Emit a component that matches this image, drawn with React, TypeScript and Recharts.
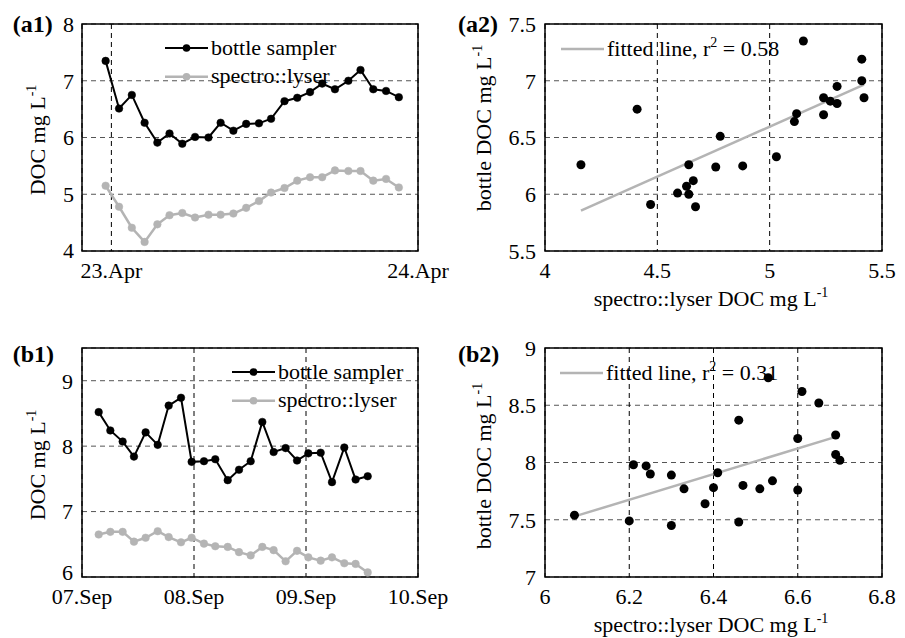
import React from 'react';
import {
  LineChart,
  Line,
  ScatterChart,
  Scatter,
  XAxis,
  YAxis,
  CartesianGrid,
  ReferenceArea,
  ReferenceLine,
  Legend,
} from 'recharts';

const FONT = '"Liberation Serif", "Times New Roman", serif';
const GRAY = '#b4b4b4';

// ---------- Panel (a): 23-24 April, hourly samples (x in hours after 23.Apr 00:00)
const aHours = [-0.45, 0.6, 1.6, 2.6, 3.6, 4.55, 5.55, 6.55, 7.6, 8.55, 9.55, 10.55, 11.55, 12.5, 13.55, 14.55, 15.55, 16.5, 17.5, 18.55, 19.5, 20.5, 21.5, 22.5];
const aBottle = [7.35, 6.51, 6.75, 6.26, 5.91, 6.07, 5.89, 6.01, 6.0, 6.26, 6.12, 6.24, 6.25, 6.33, 6.64, 6.7, 6.8, 6.95, 6.85, 7.0, 7.19, 6.85, 6.82, 6.71];
const aSpectro = [5.15, 4.78, 4.41, 4.16, 4.47, 4.63, 4.67, 4.59, 4.64, 4.64, 4.66, 4.76, 4.88, 5.03, 5.11, 5.24, 5.3, 5.3, 5.42, 5.41, 5.41, 5.24, 5.27, 5.12];
const aTimeTicks = [0, 24];
const aTimeLabels = ['23.Apr', '24.Apr'];
const aFitX = [4.16, 5.42];
const aFitY = [5.855, 6.965];
const aR2 = '0.58';

// ---------- Panel (b): 07-10 September (x in days after 07.Sep 00:00)
const bDays = [0.149, 0.253, 0.363, 0.464, 0.568, 0.676, 0.774, 0.884, 0.979, 1.089, 1.19, 1.301, 1.402, 1.506, 1.61, 1.711, 1.818, 1.92, 2.021, 2.131, 2.232, 2.342, 2.443, 2.551];
const bBottle = [8.52, 8.24, 8.07, 7.84, 8.21, 8.02, 8.62, 8.74, 7.76, 7.77, 7.8, 7.48, 7.64, 7.77, 8.37, 7.91, 7.97, 7.78, 7.89, 7.9, 7.45, 7.98, 7.49, 7.54];
const bSpectro = [6.65, 6.69, 6.69, 6.54, 6.6, 6.7, 6.61, 6.53, 6.6, 6.51, 6.47, 6.46, 6.38, 6.33, 6.46, 6.41, 6.24, 6.4, 6.3, 6.25, 6.3, 6.21, 6.2, 6.07];
const bTimeTicks = [0, 1, 2, 3];
const bTimeLabels = ['07.Sep', '08.Sep', '09.Sep', '10.Sep'];
const bFitX = [6.08, 6.7];
const bFitY = [7.54, 8.235];
const bR2 = '0.31';

// axis ticks
const a1YTicks = [4, 5, 6, 7, 8];
const a2XTicks = [4, 4.5, 5, 5.5];
const a2YTicks = [5.5, 6, 6.5, 7, 7.5];
const b1YTicks = [6, 7, 8, 9];
const b2XTicks = [6, 6.2, 6.4, 6.6, 6.8];
const b2YTicks = [7, 7.5, 8, 8.5, 9];

const seriesNames = ['bottle sampler', 'spectro::lyser'];

const aRows = aHours.map((t, i) => ({ t, bottle: aBottle[i], spectro: aSpectro[i] }));
const aPairs = aSpectro.map((x, i) => ({ x, y: aBottle[i] }));
const bRows = bDays.map((t, i) => ({ t, bottle: bBottle[i], spectro: bSpectro[i] }));
const bPairs = bSpectro.map((x, i) => ({ x, y: bBottle[i] }));

const tickStyle = { fill: '#000', fontSize: 22, fontFamily: FONT };

type LegendItem = { label: React.ReactNode; color: string; dot: boolean; width: number };

function LegendBox({ items }: { items: LegendItem[] }) {
  return (
    <svg width={260} height={items.length * 29 + 12} style={{ display: 'block', overflow: 'visible' }}>
      {items.map((it, i) => {
        const y = 12 + i * 28.7;
        return (
          <g key={i}>
            <line x1={0} x2={43} y1={y} y2={y} stroke={it.color} strokeWidth={it.width} />
            {it.dot && <circle cx={21.5} cy={y} r={3.8} fill={it.color} />}
            <text x={46} y={y + 6.5} fontFamily={FONT} fontSize={22} fill="#000">
              {it.label}
            </text>
          </g>
        );
      })}
    </svg>
  );
}

const tsItems: LegendItem[] = [
  { label: seriesNames[0], color: '#000', dot: true, width: 2 },
  { label: seriesNames[1], color: GRAY, dot: true, width: 2.5 },
];

const fitLabel = (r2: string) => (
  <>
    <tspan>fitted line, r</tspan>
    <tspan dy={-9} fontSize={14}>2</tspan>
    <tspan dy={9}>{` = ${r2}`}</tspan>
  </>
);

const dotShape = (p: any) => <circle cx={p.cx} cy={p.cy} r={4.5} fill="#000" />;

// left-axis tick that lifts the lowest label slightly (as in the reference b1 panel)
const makeYTick = (lowest: number, lift: number) => (p: any) => {
  const v = p.payload.value;
  const shift = v === lowest ? -lift : 0;
  return (
    <text x={p.x} y={p.y + shift} dy="0.355em" textAnchor="end" fill="#000" fontSize={22} fontFamily={FONT}>
      {v}
    </text>
  );
};

function TimePanel({ rows, xDomain, xTicks, xLabels, yDomain, yTicks, height, top, legendPos, yTickMargin, lowLift }: any) {
  return (
    <LineChart width={450} height={height} data={rows} margin={{ top, right: 32, left: 0, bottom: height - top - (height === 300 ? 227 : 229) - 30 }}>
      <CartesianGrid vertical={false} stroke="#555" strokeDasharray="5 4" />
      <CartesianGrid horizontal={false} stroke="#000" strokeDasharray="5 4" />
      <XAxis
        type="number"
        dataKey="t"
        domain={xDomain}
        ticks={xTicks}
        interval={0}
        allowDataOverflow
        tickFormatter={(v: number) => xLabels[xTicks.indexOf(v)]}
        axisLine={false}
        tickLine={false}
        tickSize={0}
        tickMargin={11}
        height={30}
        tick={tickStyle}
      />
      <YAxis
        type="number"
        domain={yDomain}
        ticks={yTicks}
        interval={0}
        allowDataOverflow
        axisLine={false}
        tickLine={false}
        tickSize={0}
        tickMargin={yTickMargin}
        width={82}
        tick={makeYTick(yDomain[0], lowLift)}
      />
      <ReferenceArea x1={xDomain[0]} x2={xDomain[1]} y1={yDomain[0]} y2={yDomain[1]} fill="none" fillOpacity={0} stroke="#000" strokeWidth={1.5} ifOverflow="visible" />
      <Line
        dataKey="spectro"
        name={seriesNames[1]}
        stroke={GRAY}
        strokeWidth={2.5}
        dot={{ r: 3.8, fill: GRAY, stroke: GRAY, strokeWidth: 0.5 }}
        isAnimationActive={false}
      />
      <Line
        dataKey="bottle"
        name={seriesNames[0]}
        stroke="#000"
        strokeWidth={2}
        dot={{ r: 3.8, fill: '#000', stroke: '#000', strokeWidth: 0.5 }}
        isAnimationActive={false}
      />
      <Legend
        layout="vertical"
        align="center"
        verticalAlign="middle"
        wrapperStyle={{ left: legendPos[0], top: legendPos[1], width: 'auto', height: 'auto', lineHeight: 0 }}
        content={() => <LegendBox items={tsItems} />}
      />
    </LineChart>
  );
}

function ScatterPanel({ pairs, xDomain, xTicks, yDomain, yTicks, height, top, fitX, fitY, r2, legendPos }: any) {
  const plotH = height === 320 ? 227 : 229;
  return (
    <ScatterChart width={455} height={height} margin={{ top, right: 23, left: 0, bottom: height - top - plotH - 30 }}>
      <CartesianGrid vertical={false} stroke="#555" strokeDasharray="5 4" />
      <CartesianGrid horizontal={false} stroke="#000" strokeDasharray="5 4" />
      <XAxis
        type="number"
        dataKey="x"
        domain={xDomain}
        ticks={xTicks}
        interval={0}
        allowDataOverflow
        axisLine={false}
        tickLine={false}
        tickSize={0}
        tickMargin={11}
        height={30}
        tick={tickStyle}
      />
      <YAxis
        type="number"
        dataKey="y"
        domain={yDomain}
        ticks={yTicks}
        interval={0}
        allowDataOverflow
        axisLine={false}
        tickLine={false}
        tickSize={0}
        tickMargin={9}
        width={95}
        tick={tickStyle}
      />
      <ReferenceArea x1={xDomain[0]} x2={xDomain[1]} y1={yDomain[0]} y2={yDomain[1]} fill="none" fillOpacity={0} stroke="#000" strokeWidth={1.5} ifOverflow="visible" />
      <ReferenceLine
        segment={[
          { x: fitX[0], y: fitY[0] },
          { x: fitX[1], y: fitY[1] },
        ]}
        stroke={GRAY}
        strokeWidth={2.5}
        ifOverflow="visible"
      />
      <Scatter data={pairs} fill="#000" shape={dotShape} isAnimationActive={false} name="samples" />
      <Legend
        layout="vertical"
        align="center"
        verticalAlign="middle"
        wrapperStyle={{ left: legendPos[0], top: legendPos[1], width: 'auto', height: 'auto', lineHeight: 0 }}
        content={() => <LegendBox items={[{ label: fitLabel(r2), color: GRAY, dot: false, width: 2.5 }]} />}
      />
    </ScatterChart>
  );
}

function VTitle({ x, y, text }: { x: number; y: number; text: string }) {
  return (
    <text x={x} y={y} transform={`rotate(-90 ${x} ${y})`} textAnchor="middle" fontFamily={FONT} fontSize={22} fill="#000">
      <tspan>{text}</tspan>
      <tspan dy={-9} fontSize={14}>-1</tspan>
    </text>
  );
}

function HTitle({ x, y, text }: { x: number; y: number; text: string }) {
  return (
    <text x={x} y={y} textAnchor="middle" fontFamily={FONT} fontSize={22} fill="#000">
      <tspan>{text}</tspan>
      <tspan dy={-9} fontSize={14}>-1</tspan>
    </text>
  );
}

function PanelLabel({ x, y, text }: { x: number; y: number; text: string }) {
  return (
    <text x={x} y={y} fontFamily={FONT} fontSize={24} fontWeight="bold" fill="#000">
      {text}
    </text>
  );
}

export default function App() {
  return (
    <div style={{ position: 'absolute', left: 0, top: 0, width: 905, height: 638, background: '#fff', overflow: 'hidden' }}>
      <div style={{ position: 'absolute', left: 0, top: 0 }}>
        <TimePanel
          rows={aRows}
          xDomain={[-2.3, 24]}
          xTicks={aTimeTicks}
          xLabels={aTimeLabels}
          yDomain={[4, 8]}
          yTicks={a1YTicks}
          height={300}
          top={24}
          legendPos={[165, 35.7]}
          yTickMargin={8}
          lowLift={1}
        />
      </div>
      <div style={{ position: 'absolute', left: 450, top: 0 }}>
        <ScatterPanel
          pairs={aPairs}
          xDomain={[4, 5.5]}
          xTicks={a2XTicks}
          yDomain={[5.5, 7.5]}
          yTicks={a2YTicks}
          height={320}
          top={24}
          fitX={aFitX}
          fitY={aFitY}
          r2={aR2}
          legendPos={[111, 37.3]}
        />
      </div>
      <div style={{ position: 'absolute', left: 0, top: 320 }}>
        <TimePanel
          rows={bRows}
          xDomain={[0, 3]}
          xTicks={bTimeTicks}
          xLabels={bTimeLabels}
          yDomain={[6, 9.5]}
          yTicks={b1YTicks}
          height={318}
          top={28}
          legendPos={[232, 39.7]}
          yTickMargin={9}
          lowLift={5}
        />
      </div>
      <div style={{ position: 'absolute', left: 450, top: 320 }}>
        <ScatterPanel
          pairs={bPairs}
          xDomain={[6, 6.8]}
          xTicks={b2XTicks}
          yDomain={[7, 9]}
          yTicks={b2YTicks}
          height={318}
          top={28}
          fitX={bFitX}
          fitY={bFitY}
          r2={bR2}
          legendPos={[110, 41.3]}
        />
      </div>
      <svg width={905} height={638} style={{ position: 'absolute', left: 0, top: 0, pointerEvents: 'none' }}>
        <PanelLabel x={12.7} y={31.7} text="(a1)" />
        <PanelLabel x={458} y={31.7} text="(a2)" />
        <PanelLabel x={12.7} y={361.7} text="(b1)" />
        <PanelLabel x={458} y={361.7} text="(b2)" />
        <VTitle x={45} y={140} text="DOC mg L" />
        <VTitle x={45} y={465} text="DOC mg L" />
        <VTitle x={491} y={128} text="bottle DOC mg L" />
        <VTitle x={491} y={466} text="bottle DOC mg L" />
        <HTitle x={711} y={305.5} text="spectro::lyser DOC mg L" />
        <HTitle x={711} y={631.7} text="spectro::lyser DOC mg L" />
      </svg>
    </div>
  );
}
